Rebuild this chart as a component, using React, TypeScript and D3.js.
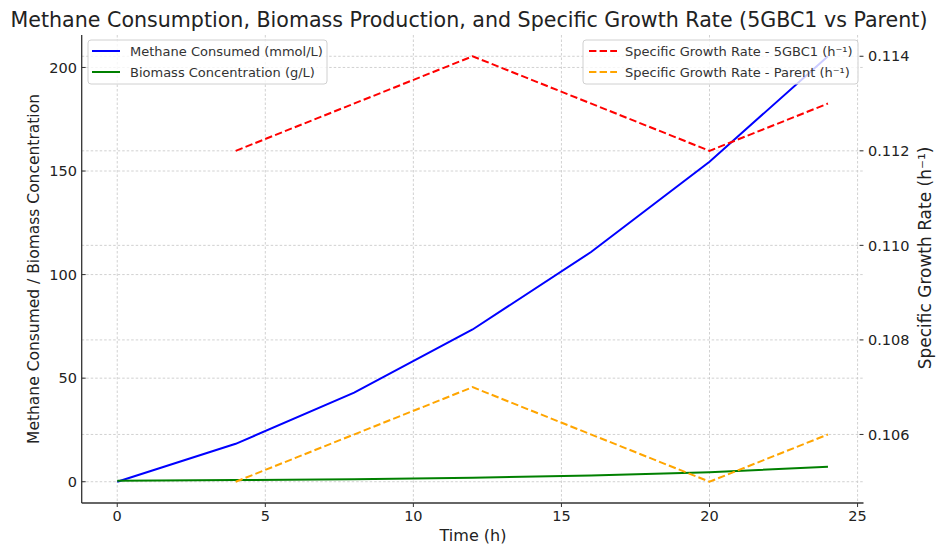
import React from "react";
import * as d3 from "d3";

const time = [0, 4, 8, 12, 16, 20, 24];
const methane = [0, 18.3, 43, 73.5, 110.9, 154.5, 205.4];
const biomass = [0.5, 0.8, 1.2, 1.9, 3.0, 4.6, 7.2];
const growthTime = [4, 12, 20, 24];
const growth5GBC1 = [0.112, 0.114, 0.112, 0.113];
const growthParent = [0.105, 0.107, 0.105, 0.106];
const xTicks = [0, 5, 10, 15, 20, 25];
const yLeftTicks = [0, 50, 100, 150, 200];
const yRightTicks = [0.106, 0.108, 0.11, 0.112, 0.114];

const W = 939;
const H = 548;
const L = 81.7, R = 863.5, T = 35, B = 503;
const FONT = "DejaVu Sans, sans-serif";

export default function App() {
  const x = d3.scaleLinear().domain([-1.2, 25.2]).range([L, R]);
  const yL = d3.scaleLinear().domain([-10.27, 215.67]).range([B, T]);
  const yR = d3.scaleLinear().domain([0.10455, 0.11445]).range([B, T]);

  const lineL = (vals: number[]) =>
    d3.line<number>().x((_, i) => x(time[i])).y((d) => yL(d))(vals) || "";
  const lineR = (vals: number[]) =>
    d3.line<number>().x((_, i) => x(growthTime[i])).y((d) => yR(d))(vals) || "";

  const grid = { stroke: "#cccccc", strokeWidth: 0.9, strokeDasharray: "2.5,2" };
  const tickColor = "#333";
  const dash = "7.4,3.2";

  return (
    <svg width={W} height={H} style={{ position: "absolute", left: 0, top: 0, background: "#fff" }} fontFamily={FONT}>
      <rect width={W} height={H} fill="#fff" />
      {/* grids */}
      {xTicks.map((t) => (
        <line key={"gx" + t} x1={x(t)} x2={x(t)} y1={T} y2={B} {...grid} />
      ))}
      {yLeftTicks.map((t) => (
        <line key={"gy" + t} x1={L} x2={R} y1={yL(t)} y2={yL(t)} {...grid} />
      ))}
      {yRightTicks.map((t) => (
        <line key={"gr" + t} x1={L} x2={R} y1={yR(t)} y2={yR(t)} {...grid} />
      ))}

      {/* left axis series */}
      <path d={lineL(methane)} fill="none" stroke="#0000ff" strokeWidth={2} />
      <path d={lineL(biomass)} fill="none" stroke="#008000" strokeWidth={2} />

      {/* left legend */}
      <g>
        <rect x={88} y={40} width={239} height={44} rx={3} fill="#fff" fillOpacity={0.8} stroke="#d0d0d0" />
        <line x1={92} x2={120} y1={51} y2={51} stroke="#0000ff" strokeWidth={2} />
        <text x={130} y={55.7} fontSize={13} fill="#333">Methane Consumed (mmol/L)</text>
        <line x1={92} x2={120} y1={72} y2={72} stroke="#008000" strokeWidth={2} />
        <text x={130} y={76.7} fontSize={13} fill="#333">Biomass Concentration (g/L)</text>
      </g>

      {/* right axis series */}
      <path d={lineR(growth5GBC1)} fill="none" stroke="#ff0000" strokeWidth={2} strokeDasharray={dash} />
      <path d={lineR(growthParent)} fill="none" stroke="#ffa500" strokeWidth={2} strokeDasharray={dash} />

      {/* right legend */}
      <g>
        <rect x={583} y={40} width={275} height={44} rx={3} fill="#fff" fillOpacity={0.8} stroke="#d0d0d0" />
        <line x1={589} x2={617} y1={51} y2={51} stroke="#ff0000" strokeWidth={2} strokeDasharray={dash} />
        <text x={625} y={55.7} fontSize={13} fill="#333">Specific Growth Rate - 5GBC1 (h⁻¹)</text>
        <line x1={589} x2={617} y1={72} y2={72} stroke="#ffa500" strokeWidth={2} strokeDasharray={dash} />
        <text x={625} y={76.7} fontSize={13} fill="#333">Specific Growth Rate - Parent (h⁻¹)</text>
      </g>

      {/* spines */}
      <line x1={L} x2={L} y1={T} y2={B} stroke="#333" strokeWidth={1.3} />
      <line x1={L} x2={R} y1={B} y2={B} stroke="#333" strokeWidth={1.3} />

      {/* x ticks */}
      {xTicks.map((t) => (
        <g key={"xt" + t}>
          <line x1={x(t)} x2={x(t)} y1={B} y2={B + 4} stroke={tickColor} strokeWidth={1} />
          <text x={x(t)} y={521} textAnchor="middle" fontSize={14.5} fill="#222">{t}</text>
        </g>
      ))}
      {/* left ticks */}
      {yLeftTicks.map((t) => (
        <g key={"yt" + t}>
          <line x1={L} x2={L + 4} y1={yL(t)} y2={yL(t)} stroke={tickColor} strokeWidth={1} />
          <text x={77} y={yL(t) + 5.2} textAnchor="end" fontSize={14.5} fill="#222">{t}</text>
        </g>
      ))}
      {/* right ticks */}
      {yRightTicks.map((t) => (
        <g key={"rt" + t}>
          <line x1={R - 4} x2={R} y1={yR(t)} y2={yR(t)} stroke={tickColor} strokeWidth={1} />
          <text x={868} y={yR(t) + 5.2} textAnchor="start" fontSize={14.5} fill="#222">{t.toFixed(3)}</text>
        </g>
      ))}

      {/* labels */}
      <text x={473} y={541} textAnchor="middle" fontSize={16} fill="#222">Time (h)</text>
      <text transform={`translate(39,269) rotate(-90)`} textAnchor="middle" fontSize={15.5} fill="#222">
        Methane Consumed / Biomass Concentration
      </text>
      <text transform={`translate(931,258) rotate(-90)`} textAnchor="middle" fontSize={17} fill="#222">
        Specific Growth Rate (h⁻¹)
      </text>
      <text x={469} y={27} textAnchor="middle" fontSize={20.6} fill="#222">
        Methane Consumption, Biomass Production, and Specific Growth Rate (5GBC1 vs Parent)
      </text>
    </svg>
  );
}
